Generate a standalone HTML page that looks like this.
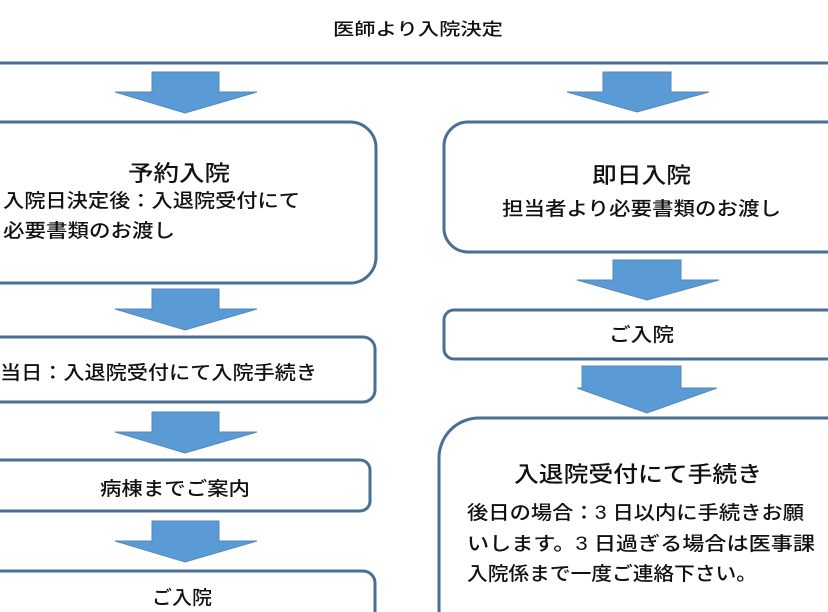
<!DOCTYPE html>
<html><head><meta charset="utf-8"><style>
html,body{margin:0;padding:0;background:#fff;}
body{width:828px;height:612px;overflow:hidden;position:relative;font-family:"Liberation Sans","Noto Sans CJK JP",sans-serif;color:#111;}
</style></head><body>
<svg width="828" height="612" viewBox="0 0 828 612" xmlns="http://www.w3.org/2000/svg" style="position:absolute;left:0;top:0;overflow:hidden">
<defs><style>
.b{fill:#fff;stroke:#4a6f96;stroke-width:3}
.a{fill:#5b9bd5;stroke:#5587bd;stroke-width:1}
text{font-family:"Liberation Sans","Noto Sans CJK JP",sans-serif;fill:#111;font-weight:500}
</style></defs>
<line x1="0" y1="63" x2="828" y2="63" stroke="#4a6f96" stroke-width="3"/>
<polygon class="a" points="152,72 219,72 219,92 257,92 185,113 115,92 152,92"/>
<polygon class="a" points="603,72 671,72 671,92 709,92 637,112 567,92 603,92"/>
<polygon class="a" points="152,289 219,289 219,309 257,309 185,330 115,309 152,309"/>
<polygon class="a" points="152,412 219,412 219,432 257,432 185,453 115,432 152,432"/>
<polygon class="a" points="152,521 219,521 219,541 257,541 185,562 115,541 152,541"/>
<polygon class="a" points="613,260 681,260 681,280 719,280 647,300 577,280 613,280"/>
<polygon class="a" points="582,366 681,366 681,388 717,388 647,413 577,388 582,388"/>
<rect class="b" x="-30" y="122" width="406" height="161" rx="26"/>
<rect class="b" x="-30" y="337" width="405" height="65" rx="12"/>
<rect class="b" x="-30" y="460" width="400" height="51" rx="10"/>
<rect class="b" x="-30" y="571" width="405" height="60" rx="12"/>
<rect class="b" x="444" y="122" width="420" height="130" rx="24"/>
<rect class="b" x="444" y="310" width="420" height="49" rx="10"/>
<rect class="b" x="439" y="418" width="430" height="230" rx="40"/>
<text x="333" y="35" font-size="17" textLength="170" lengthAdjust="spacingAndGlyphs">医師より入院決定</text>
<text x="128" y="181" font-size="22" textLength="102" lengthAdjust="spacingAndGlyphs">予約入院</text>
<text x="3" y="207" font-size="19" textLength="297" lengthAdjust="spacingAndGlyphs">入院日決定後：入退院受付にて</text>
<text x="3" y="237" font-size="19" textLength="172" lengthAdjust="spacingAndGlyphs">必要書類のお渡し</text>
<text x="0" y="379" font-size="19" textLength="317" lengthAdjust="spacingAndGlyphs">当日：入退院受付にて入院手続き</text>
<text x="100" y="495" font-size="19" textLength="150" lengthAdjust="spacingAndGlyphs">病棟までご案内</text>
<text x="152" y="604" font-size="19" textLength="60" lengthAdjust="spacingAndGlyphs">ご入院</text>
<text x="592" y="183" font-size="22" textLength="99" lengthAdjust="spacingAndGlyphs">即日入院</text>
<text x="502" y="215" font-size="19" textLength="279" lengthAdjust="spacingAndGlyphs">担当者より必要書類のお渡し</text>
<text x="609" y="341" font-size="19" textLength="65" lengthAdjust="spacingAndGlyphs">ご入院</text>
<text x="514" y="482" font-size="22" textLength="248" lengthAdjust="spacingAndGlyphs">入退院受付にて手続き</text>
<text x="467" y="519" font-size="19" textLength="337" lengthAdjust="spacingAndGlyphs">後日の場合：3 日以内に手続きお願</text>
<text x="467" y="550" font-size="19" textLength="348" lengthAdjust="spacingAndGlyphs">いします。3 日過ぎる場合は医事課</text>
<text x="467" y="580" font-size="19" textLength="290" lengthAdjust="spacingAndGlyphs">入院係まで一度ご連絡下さい。</text>
</svg>
</body></html>
